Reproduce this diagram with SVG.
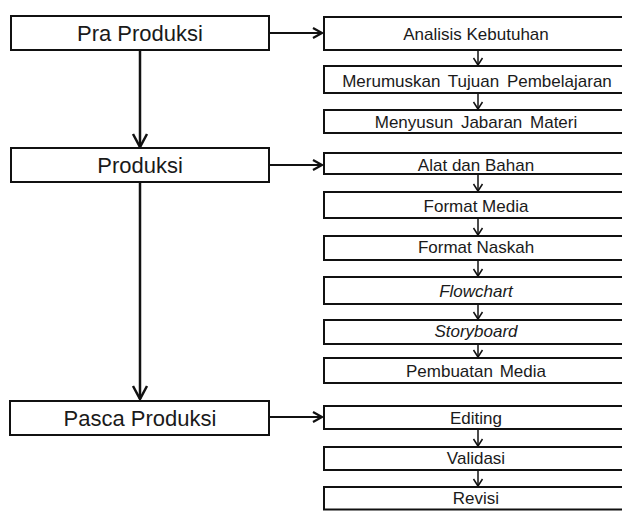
<svg xmlns="http://www.w3.org/2000/svg" width="622" height="511" viewBox="0 0 622 511">
<style>
.box{fill:#fff;stroke:#111;stroke-width:2}
.lt{font-family:"Liberation Sans",Arial,sans-serif;font-size:22px;fill:#1a1a1a;text-anchor:middle}
.rt{font-family:"Liberation Sans",Arial,sans-serif;font-size:17px;fill:#1a1a1a;text-anchor:middle}
.it{font-style:italic}
.big{fill:none;stroke:#111;stroke-width:2.5}
.hz{fill:none;stroke:#111;stroke-width:2.2}
.sm{fill:none;stroke:#111;stroke-width:1.5}
</style>
<defs>
<marker id="mb" markerUnits="userSpaceOnUse" orient="auto" refX="0" refY="0" markerWidth="20" markerHeight="20" viewBox="-15 -10 20 20" overflow="visible"><path d="M-13,-7 L0,0 L-13,7" fill="none" stroke="#111" stroke-width="2.5"/></marker>
<marker id="mh" markerUnits="userSpaceOnUse" orient="auto" refX="0" refY="0" markerWidth="20" markerHeight="20" viewBox="-15 -10 20 20" overflow="visible"><path d="M-9,-5 L0,0 L-9,5" fill="none" stroke="#111" stroke-width="2.2"/></marker>
<marker id="ms" markerUnits="userSpaceOnUse" orient="auto" refX="0" refY="0" markerWidth="20" markerHeight="20" viewBox="-15 -10 20 20" overflow="visible"><path d="M-7,-4.5 L0,0 L-7,4.5" fill="none" stroke="#111" stroke-width="1.5"/></marker>
</defs>
<rect width="622" height="511" fill="#fff"/>
<g id="connectors">
<path class="big" d="M140,50 V147" marker-end="url(#mb)"/>
<path class="big" d="M140,182 V399" marker-end="url(#mb)"/>
<path class="hz" d="M269,33 H322" marker-end="url(#mh)"/>
<path class="hz" d="M269,165 H322" marker-end="url(#mh)"/>
<path class="hz" d="M269,417 H322" marker-end="url(#mh)"/>
<path class="sm" d="M478,50 V65" marker-end="url(#ms)"/>
<path class="sm" d="M478,93 V109" marker-end="url(#ms)"/>
<path class="sm" d="M478,174 V191" marker-end="url(#ms)"/>
<path class="sm" d="M478,218 V235" marker-end="url(#ms)"/>
<path class="sm" d="M478,260 V276" marker-end="url(#ms)"/>
<path class="sm" d="M478,304 V319" marker-end="url(#ms)"/>
<path class="sm" d="M478,344 V357" marker-end="url(#ms)"/>
<path class="sm" d="M478,429 V446" marker-end="url(#ms)"/>
<path class="sm" d="M478,470 V486" marker-end="url(#ms)"/>
</g>
<g id="pra-produksi"><rect class="box" x="11" y="16" width="258" height="34"/><text class="lt" x="140" y="40.5">Pra Produksi</text></g>
<g id="produksi"><rect class="box" x="11" y="148" width="258" height="34"/><text class="lt" x="140" y="172.5">Produksi</text></g>
<g id="pasca-produksi"><rect class="box" x="10" y="401" width="259" height="34"/><text class="lt" x="140" y="425.5">Pasca Produksi</text></g>
<g id="analisis"><rect class="box" x="324" y="17" width="310" height="33"/><text class="rt" x="476" y="40">Analisis Kebutuhan</text></g>
<g id="merumuskan"><rect class="box" x="324" y="66" width="310" height="27"/><text class="rt" x="477" y="86.5" word-spacing="3">Merumuskan Tujuan Pembelajaran</text></g>
<g id="menyusun"><rect class="box" x="324" y="110" width="310" height="23"/><text class="rt" x="476" y="128" word-spacing="3">Menyusun Jabaran Materi</text></g>
<g id="alat"><rect class="box" x="324" y="153" width="310" height="21"/><text class="rt" x="476" y="171">Alat dan Bahan</text></g>
<g id="format-media"><rect class="box" x="324" y="192" width="310" height="26"/><text class="rt" x="476" y="211.5">Format Media</text></g>
<g id="format-naskah"><rect class="box" x="324" y="236" width="310" height="24"/><text class="rt" x="476" y="253">Format Naskah</text></g>
<g id="flowchart"><rect class="box" x="324" y="277" width="310" height="27"/><text class="rt it" x="476" y="297">Flowchart</text></g>
<g id="storyboard"><rect class="box" x="324" y="320" width="310" height="24"/><text class="rt it" x="476" y="337">Storyboard</text></g>
<g id="pembuatan"><rect class="box" x="324" y="358" width="310" height="25"/><text class="rt" x="476" y="376.5" word-spacing="2">Pembuatan Media</text></g>
<g id="editing"><rect class="box" x="324" y="406" width="310" height="23"/><text class="rt" x="476" y="424">Editing</text></g>
<g id="validasi"><rect class="box" x="324" y="447" width="310" height="23"/><text class="rt" x="476" y="464">Validasi</text></g>
<g id="revisi"><rect class="box" x="324" y="487" width="310" height="22.5"/><text class="rt" x="476" y="504">Revisi</text></g>
</svg>
